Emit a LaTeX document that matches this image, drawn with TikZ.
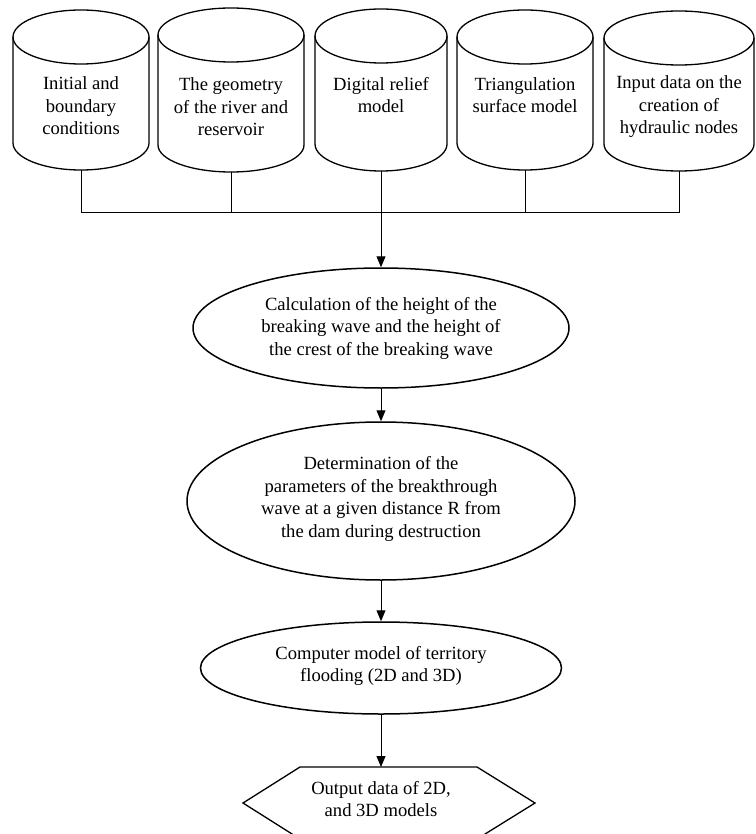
\documentclass[tikz,border=0pt]{standalone}
\usepackage{fontspec}
\setmainfont{Liberation Serif}
\usetikzlibrary{arrows.meta,shapes.geometric}
\newcommand\mycyl[5]{%
  \draw[shapeline] (#2,-#4-27) ellipse [x radius=#3, y radius=27];
  \draw[shapeline] (#2-#3,-#4-27) -- (#2-#3,-#5+27)
     arc[start angle=180,end angle=360,x radius=#3,y radius=27] -- (#2+#3,-#4-27);
  \coordinate (#1) at (#2,-#5);
}
\tikzset{
  shapeline/.style={line width=1.3pt, black},
  conn/.style={line width=1pt, black},
  arr/.style={conn, -{Triangle[width=9pt,length=11pt]}},
  txt/.style={align=center, inner sep=0pt, font=\fontsize{18.6}{22.5}\selectfont},
  ell/.style={draw, ellipse, line width=1.5pt, inner sep=0pt},
}
\begin{document}
\begin{tikzpicture}[x=1pt,y=1pt]
\useasboundingbox (0,0) rectangle (755,-834);
% cylinders
\mycyl{c1}{81}{68}{10}{170}
\mycyl{c2}{231}{73}{8}{172}
\mycyl{c3}{381}{66}{9}{171}
\mycyl{c4}{525}{68}{10}{170}
\mycyl{c5}{679}{75}{11}{171}
\node[txt] (t1) at (81,-106) {Initial and\\boundary\\conditions};
\node[txt] (t2) at (231,-107) {The geometry\\of the river and\\reservoir};
\node[txt] (t3) at (381,-95) {Digital relief\\model};
\node[txt] (t4) at (525,-95) {Triangulation\\surface model};
\node[txt] (t5) at (679,-107) {Input data on the\\creation of\\hydraulic nodes};
% bus
\coordinate (busL) at (81,-213);
\coordinate (busR) at (679,-213);
\draw[conn] (c1) -- (busL) -- (busR) -- (c5);
\draw[conn] (c2) -- (c2 |- busL);
\draw[conn] (c4) -- (c4 |- busL);
\draw[conn] (c3) -- (c3 |- busL);
% ellipses
\node[ell, minimum width=376pt, minimum height=120pt] (e1) at (381,-328) {};
\node[txt] (e1t) at (e1) {Calculation of the height of the\\breaking wave and the height of\\the crest of the breaking wave};
\node[ell, minimum width=388pt, minimum height=158pt] (e2) at (381,-501) {};
\node[txt] (e2t) at (381,-499) {Determination of the\\parameters of the breakthrough\\wave at a given distance R from\\the dam during destruction};
\node[ell, minimum width=361pt, minimum height=92pt] (e3) at (381,-668) {};
\node[txt] (e3t) at (381,-666) {Computer model of territory\\flooding (2D and 3D)};
% hexagon
\coordinate (hT1) at (300,-767);
\coordinate (hT) at (381,-767);
\coordinate (hT2) at (477,-767);
\coordinate (hR) at (535,-803);
\coordinate (hB2) at (477,-839);
\coordinate (hB1) at (300,-839);
\coordinate (hL) at (243,-803);
\draw[shapeline, line join=miter] (hT1) -- (hT2) -- (hR) -- (hB2) -- (hB1) -- (hL) -- cycle;
\node[txt] (ht) at (381,-799) {Output data of 2D,\\and 3D models};
% arrows
\draw[arr] (c3 |- busL) -- (e1.north);
\draw[arr] (e1.south) -- (e2.north);
\draw[arr] (e2.south) -- (e3.north);
\draw[arr] (e3.south) -- (hT);
\end{tikzpicture}
\end{document}
